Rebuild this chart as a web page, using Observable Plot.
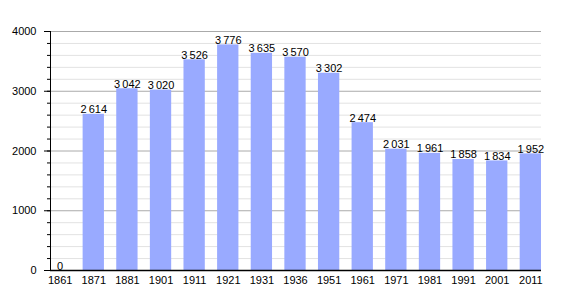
<!DOCTYPE html>
<html><head><meta charset="utf-8">
<script src="https://cdn.jsdelivr.net/npm/d3@7"></script>
<script src="https://cdn.jsdelivr.net/npm/@observablehq/plot@0.6"></script>
<style>body{margin:0;background:#fff;font-family:"Liberation Sans",Arial,sans-serif}</style>
</head><body><div id="chart"></div>
<script>
const years = ["1861","1871","1881","1901","1911","1921","1931","1936","1951","1961","1971","1981","1991","2001","2011"];
const population = [0,2614,3042,3020,3526,3776,3635,3570,3302,2474,2031,1961,1858,1834,1952];
const majorTicks = [0,1000,2000,3000,4000];
const minorTicks = d3.range(0,4001,200);

const data = years.map((y,i)=>({year:y, pop:population[i]}));
const fmt = v => v >= 1000 ? Math.floor(v/1000) + "\u2009" + String(v%1000).padStart(3,"0") : String(v);

const chart = Plot.plot({
  width:570, height:300,
  marginLeft:50, marginRight:29, marginTop:31, marginBottom:30,
  style:{fontFamily:"Liberation Sans, Arial, sans-serif", fontSize:"11px", color:"#000", background:"#fff"},
  x:{domain:years, paddingInner:0.366, paddingOuter:0, round:false, range:[49,541], label:null},
  y:{domain:[0,4000], label:null},
  marks:[
    Plot.ruleY(minorTicks.filter(d=>d%1000), {stroke:"#e2e2e2", strokeOpacity:1}),
    Plot.ruleY(majorTicks.filter(d=>d>0), {stroke:"#aaaaaa", strokeOpacity:1}),
    Plot.barY(data, {x:"year", y:"pop", fill:"#99aaff"}),
    Plot.text(data, {x:"year", y:"pop", text:d=>fmt(d.pop), lineAnchor:"bottom", dy:-1, fill:"#000", fontSize:11}),
    Plot.axisY(minorTicks, {tickSize:3, text:null, stroke:"#000", strokeOpacity:1}),
    Plot.axisY(majorTicks, {tickSize:6, tickPadding:8, tickFormat:d=>String(d), stroke:"#000", strokeOpacity:1, fill:"#000", fontSize:11}),
    Plot.axisX({tickSize:0, tickPadding:6, fill:"#000", fontSize:11}),
    Plot.frame({anchor:"left", stroke:"#000"}),
    Plot.ruleY([0], {stroke:"#000", strokeWidth:1.5})
  ]
});
document.getElementById("chart").appendChild(chart);
</script></body></html>
